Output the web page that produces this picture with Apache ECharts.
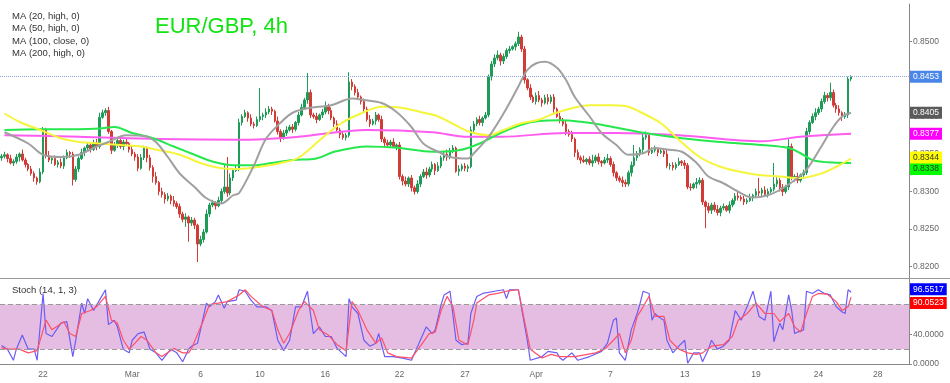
<!DOCTYPE html>
<html><head><meta charset="utf-8">
<script src="https://cdn.jsdelivr.net/npm/echarts/dist/echarts.min.js"></script>
<style>html,body{margin:0;padding:0;background:#fff}#c{width:950px;height:383px}</style>
</head><body><div id="c"></div>
<script>
// ---- data (prices in 1/10000 units) ----
const tickLabels = ['22','Mar','6','10','16','22','27','Apr','7','13','19','24','28'];
const tickIndex = [14,44,67,87,109,134,156,180,205,230,254,275,295];
const slotCount = 306;
const firstOpen = 8345;
const closes = [
8347,8349,8344,8338,8340,8346,8350,8342,8336,8330,
8324,8318,8313,8326,8382,8348,8342,8344,8336,8339,
8334,8345,8352,8350,8316,8330,8344,8352,8358,8362,
8356,8365,8360,8399,8405,8408,8380,8355,8362,8368,
8360,8366,8364,8356,8350,8346,8331,8345,8358,8345,
8332,8320,8312,8300,8296,8290,8294,8288,8284,8280,
8270,8263,8266,8258,8262,8255,8230,8236,8246,8270,
8282,8285,8281,8288,8300,8306,8298,8318,8328,8330,
8392,8400,8405,8398,8390,8388,8396,8400,8402,8406,
8410,8407,8394,8380,8372,8378,8382,8386,8383,8392,
8402,8412,8422,8432,8402,8400,8396,8402,8406,8414,
8408,8398,8390,8382,8376,8372,8375,8446,8440,8432,
8426,8420,8410,8396,8390,8394,8402,8396,8370,8365,
8362,8366,8360,8362,8320,8314,8310,8318,8305,8300,
8310,8320,8326,8322,8330,8336,8328,8334,8345,8350,
8346,8355,8358,8327,8330,8334,8331,8333,8382,8390,
8396,8392,8398,8402,8453,8470,8478,8482,8474,8480,
8488,8490,8493,8497,8506,8490,8449,8438,8426,8420,
8428,8422,8418,8425,8420,8426,8410,8400,8395,8390,
8380,8376,8370,8352,8345,8342,8340,8343,8338,8341,
8346,8340,8338,8342,8344,8336,8325,8318,8315,8312,
8310,8325,8335,8345,8350,8356,8372,8375,8352,8355,
8356,8352,8354,8350,8334,8335,8332,8336,8340,8338,
8335,8306,8305,8310,8312,8315,8286,8280,8275,8282,
8276,8272,8278,8280,8275,8282,8288,8294,8292,8290,
8286,8288,8292,8295,8300,8298,8302,8296,8300,8303,
8310,8315,8305,8300,8306,8360,8318,8320,8315,8322,
8325,8380,8392,8400,8405,8410,8420,8428,8425,8432,
8415,8410,8405,8400,8402,8450,8453];
const upWick = [
3,4,2,5,3,4,2,6,3,2, 4,3,2,5,4,3,6,2,4,3, 5,3,4,2,3,4,3,5,2,4, 3,4,5,6,4,3,5,2,4,3,
5,3,4,2,6,3,4,5,3,2, 4,3,6,2,5,3,4,2,6,3, 4,3,5,2,4,3,2,5,4,6, 3,4,2,5,4,30,40,6,3,4,
5,3,4,2,5,3,4,38,3,5, 4,3,2,6,3,4,5,3,4,2, 4,5,3,26,4,3,5,2,4,6, 3,4,2,5,3,4,3,13,4,3,
5,2,4,3,6,3,4,2,5,3, 4,3,5,2,4,3,6,2,4,3, 5,3,4,6,3,4,2,5,3,4, 6,3,4,2,5,3,4,3,5,4,
3,5,2,4,3,4,5,6,3,4, 3,4,2,3,7,3,4,2,5,3, 4,6,3,4,5,3,4,2,5,3, 4,3,5,2,4,3,6,2,4,8,
3,5,2,4,6,3,4,2,3,5, 4,3,5,17,4,3,6,5,3,4, 5,2,4,3,6,3,4,3,5,2, 4,3,5,2,6,4,3,2,5,3,
4,6,3,4,2,5,3,4,6,3, 4,3,5,2,4,18,3,5,4,3, 28,4,3,5,3,10,4,3,5,2, 4,5,3,4,6,3,4,5,3,13,
4,3,5,2,4,3,2];
const downWick = [
4,3,5,2,4,3,6,2,4,3, 3,5,4,2,3,4,3,5,2,4, 3,4,2,5,8,3,4,2,5,3, 4,2,5,3,2,4,3,5,2,4,
3,5,2,4,3,5,4,2,3,6, 4,8,3,5,4,6,3,5,4,3, 5,4,10,25,4,5,24,3,4,2, 4,3,5,2,4,3,5,3,4,2,
3,4,2,5,3,4,2,3,5,4, 3,5,2,4,6,3,4,2,5,3, 4,2,3,5,4,3,5,2,4,3, 5,3,4,2,5,3,4,3,5,4,
3,4,5,3,4,2,5,3,4,5, 3,4,2,5,4,6,3,4,5,4, 3,4,2,5,3,4,6,2,3,4, 5,3,4,2,6,3,4,5,2,4,
3,4,5,2,3,5,4,3,6,4, 3,4,2,5,3,4,5,3,4,2, 4,3,5,2,4,3,5,2,4,3, 5,3,4,6,3,5,2,4,3,5,
3,4,5,2,4,3,5,4,3,6, 4,3,5,2,4,3,5,3,4,2, 3,5,2,4,3,5,4,3,2,4, 5,3,4,2,6,3,4,29,4,5,
3,4,5,3,2,4,3,5,4,3, 4,3,2,5,3,4,5,3,4,2, 3,4,5,6,3,4,3,5,4,3, 5,3,4,2,5,3,4,3,5,4,
3,5,4,6,3,4,3];
// moving averages: [candle index, value]
const ma20 = [[1,8379],[9,8364],[14,8349],[20,8346],[26,8349],[31,8358],[36,8366],[42,8375],[49,8373],[52,8366],[56,8346],[60,8324],[65,8306],[69,8291],[74,8284],[78,8295],[80,8298],[85,8335],[89,8370],[94,8392],[98,8405],[103,8411],[111,8415],[118,8424],[122,8422],[128,8418],[133,8406],[138,8386],[142,8364],[147,8353],[151,8346],[157,8344],[159,8351],[164,8373],[169,8404],[174,8440],[177,8462],[180,8471],[183,8473],[187,8465],[190,8449],[193,8426],[198,8400],[202,8378],[207,8362],[211,8349],[216,8351],[220,8358],[224,8356],[229,8353],[234,8338],[238,8320],[243,8311],[247,8302],[253,8292],[258,8295],[262,8302],[267,8315],[271,8329],[276,8360],[280,8386],[283,8400],[286,8405]];
const ma50 = [[1,8404],[6,8393],[13,8382],[20,8371],[26,8366],[33,8364],[40,8362],[47,8360],[53,8355],[60,8349],[67,8338],[74,8331],[80,8330],[87,8333],[94,8338],[100,8345],[107,8368],[114,8390],[121,8404],[128,8413],[134,8412],[141,8406],[147,8400],[152,8390],[158,8379],[164,8375],[169,8382],[175,8391],[181,8396],[186,8404],[192,8411],[198,8415],[205,8415],[210,8414],[215,8406],[222,8391],[228,8369],[235,8346],[242,8333],[249,8326],[255,8322],[262,8320],[269,8318],[276,8324],[282,8335],[286,8344]];
const ma100 = [[1,8382],[13,8383],[26,8383],[33,8384],[38,8386],[44,8378],[51,8371],[58,8360],[65,8349],[71,8340],[78,8335],[85,8335],[91,8338],[98,8342],[106,8344],[112,8353],[123,8360],[134,8358],[145,8353],[154,8355],[161,8364],[168,8378],[175,8389],[181,8394],[188,8395],[195,8393],[202,8389],[215,8379],[229,8371],[242,8366],[256,8362],[265,8358],[269,8351],[273,8342],[278,8339],[286,8338]];
const ma200 = [[1,8375],[26,8373],[53,8370],[80,8369],[100,8373],[123,8382],[145,8379],[157,8373],[168,8373],[190,8378],[207,8378],[228,8375],[256,8367],[269,8373],[286,8377]];
// stochastic (%K blue, %D red)
const stochK = [[0,25],[2,20],[4,5],[5,20],[7,39],[9,20],[11,20],[12,5],[14,95],[15,41],[17,37],[20,55],[22,57],[24,10],[25,32],[27,82],[28,68],[29,88],[31,72],[33,86],[35,100],[36,53],[38,59],[39,50],[41,20],[43,15],[44,32],[46,41],[48,43],[50,20],[52,15],[54,5],[57,20],[59,15],[61,3],[63,20],[64,24],[66,28],[69,82],[70,77],[72,84],[73,93],[75,75],[76,84],[79,86],[80,100],[82,98],[84,86],[86,77],[89,77],[91,72],[93,32],[95,18],[97,32],[99,77],[101,77],[103,98],[104,68],[105,41],[107,50],[109,37],[111,37],[113,21],[116,10],[117,88],[118,77],[120,68],[122,32],[124,24],[126,28],[127,41],[129,10],[132,10],[135,8],[138,5],[141,32],[143,50],[145,41],[146,46],[148,80],[149,93],[151,98],[153,32],[155,26],[157,28],[158,68],[160,91],[162,95],[166,98],[169,100],[170,88],[171,100],[174,100],[175,77],[177,32],[178,5],[182,10],[184,17],[187,15],[188,8],[189,5],[192,15],[194,5],[198,10],[202,17],[204,28],[206,59],[207,62],[208,15],[210,5],[212,46],[214,68],[215,82],[216,98],[218,95],[219,59],[220,68],[221,64],[223,59],[224,32],[226,15],[228,24],[230,32],[231,1],[233,15],[235,15],[236,3],[238,20],[239,32],[241,20],[243,24],[245,32],[247,72],[249,59],[251,77],[253,98],[255,64],[257,59],[259,98],[260,30],[262,55],[263,46],[265,93],[266,72],[267,41],[268,43],[270,46],[271,98],[273,95],[275,100],[277,95],[279,93],[281,77],[283,70],[284,68],[285,100],[286,96.5517]];
const stochD = [[0,22],[2,20],[6,20],[9,15],[12,18],[15,59],[17,46],[21,57],[23,41],[25,37],[27,68],[30,72],[32,77],[35,91],[37,59],[39,55],[41,32],[43,20],[47,37],[49,32],[52,15],[54,10],[58,21],[61,15],[63,15],[64,21],[68,59],[70,80],[73,82],[76,84],[80,93],[82,100],[84,91],[88,77],[91,72],[93,46],[95,28],[97,41],[100,72],[102,84],[105,72],[107,46],[110,39],[113,26],[116,18],[118,84],[120,72],[123,46],[126,28],[128,35],[130,15],[133,10],[138,8],[141,24],[144,41],[146,43],[148,72],[150,91],[152,77],[154,32],[157,26],[159,59],[160,82],[164,93],[167,95],[170,98],[174,100],[176,59],[178,20],[182,8],[185,13],[188,10],[193,10],[200,15],[203,20],[206,32],[208,41],[210,15],[212,32],[214,64],[216,77],[218,91],[220,64],[223,64],[225,32],[228,20],[231,15],[234,13],[236,15],[239,24],[243,26],[246,37],[248,59],[251,68],[254,82],[257,68],[260,68],[262,57],[265,68],[267,50],[269,43],[271,68],[273,91],[275,95],[278,94],[281,84],[283,72],[285,77],[286,90.0523]];
const stochLevels = [20, 80];

// ---- build ----
const scale = 10000;
const cats = Array.from({length: slotCount}, (_, i) => {
  const k = tickIndex.indexOf(i); return k >= 0 ? tickLabels[k] : '';
});
const tickSet = new Set(tickIndex);
const showTick = (i) => tickSet.has(i);
const candles = closes.map((c, i) => {
  const o = i === 0 ? firstOpen : closes[i - 1];
  const hi = Math.max(o, c) + upWick[i];
  const lo = Math.min(o, c) - downWick[i];
  return [o / scale, c / scale, lo / scale, hi / scale];
});
const pts = (arr, s) => arr.map(p => [p[0], p[1] / s]);
const FONT = 'Liberation Sans, Arial, sans-serif';
function tag(value, bg, fg, dy, extraLine) {
  return {
    yAxis: value,
    lineStyle: extraLine || {color: 'rgba(0,0,0,0)', width: 1},
    label: {show: true, position: 'end', distance: 1, formatter: () => Number(value).toFixed(4),
      backgroundColor: bg, color: fg, padding: [1, 3, 0, 3], fontSize: 8.5, fontFamily: FONT,
      lineHeight: 11, offset: [0, dy || 0]}
  };
}
function maSeries(name, arr, color, bg, fg, dy) {
  const d = pts(arr, scale);
  return {
    name, type: 'line', xAxisIndex: 0, yAxisIndex: 0, data: d, showSymbol: false, smooth: 0.35,
    lineStyle: {color, width: 2}, itemStyle: {color}, z: 4, silent: true,
    markLine: {symbol: 'none', silent: true, animation: false, precision: 6, data: [tag(d[d.length - 1][1], bg, fg, dy)]}
  };
}
const lastClose = closes[closes.length - 1] / scale;
const chart = echarts.init(document.getElementById('c'), null, {renderer: 'canvas'});
chart.setOption({
  animation: false,
  backgroundColor: '#fff',
  textStyle: {fontFamily: FONT},
  title: [
    {text: 'EUR/GBP, 4h', left: 155, top: 16, padding: 0,
      textStyle: {color: '#12e312', fontSize: 22, fontWeight: 'normal', fontFamily: FONT}},
    {text: 'MA (20, high, 0)\nMA (50, high, 0)\nMA (100, close, 0)\nMA (200, high, 0)', left: 12, top: 10, padding: 0,
      textStyle: {color: '#333', fontSize: 9.5, lineHeight: 12.5, fontWeight: 'normal', fontFamily: FONT}},
    {text: 'Stoch (14, 1, 3)', left: 12, top: 285, padding: 0,
      textStyle: {color: '#333', fontSize: 9.5, fontWeight: 'normal', fontFamily: FONT}}
  ],
  grid: [
    {left: 0, right: 41, top: 4, height: 300},
    {left: 0, right: 41, top: 278, bottom: 19}
  ],
  graphic: [{type: 'line', shape: {x1: 0, y1: 278.5, x2: 950, y2: 278.5}, style: {stroke: '#999', lineWidth: 1}, z: 10}],
  xAxis: [
    {type: 'category', gridIndex: 0, data: cats, show: false},
    {type: 'category', gridIndex: 1, data: cats,
      axisLine: {lineStyle: {color: '#888'}},
      axisTick: {interval: showTick, length: 3, lineStyle: {color: '#888'}},
      axisLabel: {interval: showTick, fontSize: 8.5, color: '#666', margin: 6, fontFamily: FONT}}
  ],
  yAxis: [
    {type: 'value', gridIndex: 0, position: 'right', min: 0.815, max: 0.855, interval: 0.005,
      splitLine: {show: false}, axisLine: {show: true, lineStyle: {color: '#888'}},
      axisTick: {show: true, length: 3, lineStyle: {color: '#888'}},
      axisLabel: {formatter: v => v.toFixed(4), fontSize: 8.5, color: '#666', margin: 4,
        showMinLabel: false, showMaxLabel: false, fontFamily: FONT}},
    {type: 'value', gridIndex: 1, position: 'right', min: 0, max: 115.8, interval: 40,
      splitLine: {show: false}, axisLine: {show: true, lineStyle: {color: '#888'}},
      axisTick: {show: true, length: 3, lineStyle: {color: '#888'}},
      axisLabel: {formatter: v => v.toFixed(4), fontSize: 8.5, color: '#666', margin: 4,
        showMaxLabel: false, fontFamily: FONT}}
  ],
  series: [
    {type: 'candlestick', name: 'EURGBP', xAxisIndex: 0, yAxisIndex: 0, data: candles, barWidth: '68%', z: 3,
      itemStyle: {color: '#1f9b58', color0: '#d33c36', borderColor: '#1f9b58', borderColor0: '#d33c36', borderWidth: 1},
      markLine: {symbol: 'none', silent: true, animation: false, precision: 6,
        data: [tag(lastClose, '#4a86e8', '#fff', 0, {type: 'dotted', color: '#8ea6d8', width: 1})]}},
    maSeries('MA200', ma200, '#ff5cf0', '#ff00ff', '#fff', 0),
    maSeries('MA100', ma100, '#25e84e', '#00ff00', '#333', 6),
    maSeries('MA50', ma50, '#f5f53c', '#ffff00', '#333', -1),
    maSeries('MA20', ma20, '#a0a0a0', '#5a5a5a', '#fff', 0),
    {type: 'line', name: '%K', xAxisIndex: 1, yAxisIndex: 1, data: stochK, showSymbol: false,
      lineStyle: {color: '#6a5cf5', width: 1.2}, itemStyle: {color: '#6a5cf5'}, z: 4,
      markArea: {silent: true, itemStyle: {color: '#e6bde2'}, data: [[{yAxis: stochLevels[0]}, {yAxis: stochLevels[1]}]]},
      markLine: {symbol: 'none', silent: true, animation: false, precision: 6, data: [
        {yAxis: stochLevels[0], lineStyle: {type: [5, 3], color: '#999', width: 1}, label: {show: false}},
        {yAxis: stochLevels[1], lineStyle: {type: [5, 3], color: '#999', width: 1}, label: {show: false}},
        tag(stochK[stochK.length - 1][1], '#0000ff', '#fff', -3)
      ]}},
    {type: 'line', name: '%D', xAxisIndex: 1, yAxisIndex: 1, data: stochD, showSymbol: false,
      lineStyle: {color: '#ff5068', width: 1.2}, itemStyle: {color: '#ff5068'}, z: 4,
      markLine: {symbol: 'none', silent: true, animation: false, precision: 6, data: [tag(stochD[stochD.length - 1][1], '#ff0000', '#fff', 6)]}}
  ]
});
</script>
</body></html>
